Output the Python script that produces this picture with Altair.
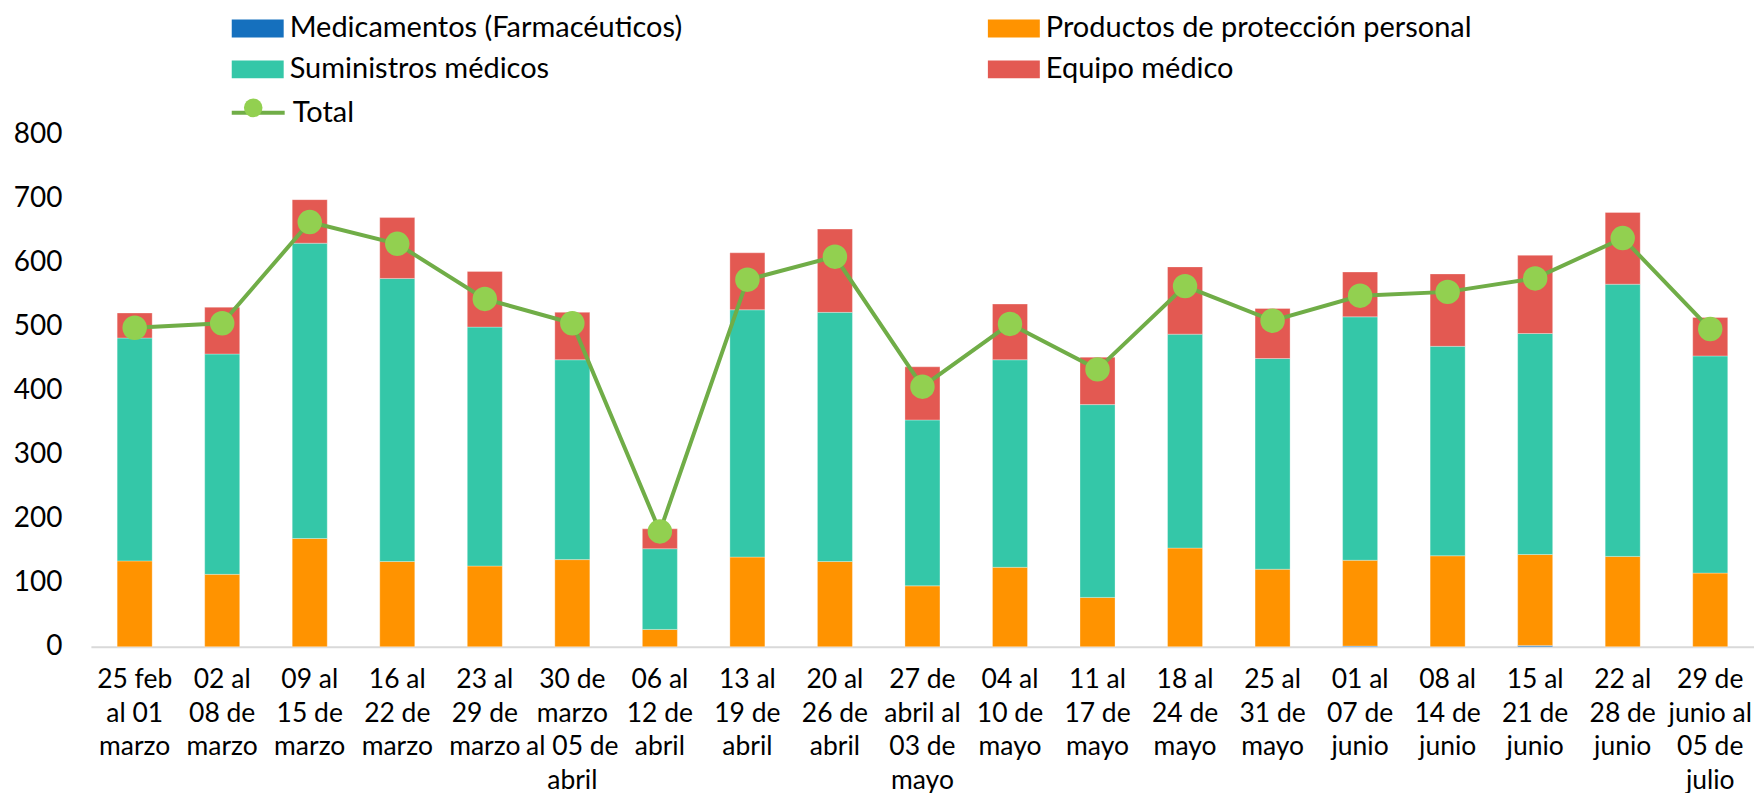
import altair as alt
import pandas as pd

weeks = [
    "25 feb|al 01|marzo", "02 al|08 de|marzo", "09 al|15 de|marzo", "16 al|22 de|marzo",
    "23 al|29 de|marzo", "30 de|marzo|al 05 de|abril", "06 al|12 de|abril", "13 al|19 de|abril",
    "20 al|26 de|abril", "27 de|abril al|03 de|mayo", "04 al|10 de|mayo", "11 al|17 de|mayo",
    "18 al|24 de|mayo", "25 al|31 de|mayo", "01 al|07 de|junio", "08 al|14 de|junio",
    "15 al|21 de|junio", "22 al|28 de|junio", "29 de|junio al|05 de|julio",
]
medicamentos = [0, 0, 0, 0, 0, 0, 0, 0, 0, 0, 0, 0, 0, 0, 1, 0, 2, 0, 0]
productos = [134, 113, 169, 133, 126, 136, 27, 140, 133, 95, 124, 77, 154, 121, 134, 142, 142, 141, 115]
suministros = [348, 344, 461, 442, 373, 312, 126, 386, 389, 259, 324, 301, 334, 329, 380, 327, 345, 425, 339]
equipo = [39, 73, 68, 95, 87, 74, 31, 89, 130, 83, 87, 74, 105, 78, 70, 113, 122, 112, 60]
total = [498, 505, 663, 629, 543, 505, 180, 573, 609, 406, 504, 433, 563, 509, 548, 554, 575, 638, 496]

series = ["Medicamentos (Farmacéuticos)", "Productos de protección personal",
          "Suministros médicos", "Equipo médico"]
colors = ["#1570BE", "#FF9300", "#34C7A8", "#E35952"]

rows = []
for i, w in enumerate(weeks):
    for k, vals in enumerate([medicamentos, productos, suministros, equipo]):
        rows.append({"semana": w, "serie": series[k], "valor": vals[i], "orden": k})
bars_df = pd.DataFrame(rows)
tot_df = pd.DataFrame({"semana": weeks, "total": total,
                       "linea": ["Total"] * len(weeks), "punto": ["Total"] * len(weeks)})

FONT = "Lato"
FS = 28
LFS = 29

x_enc = alt.X(
    "semana:N", sort=weeks,
    scale=alt.Scale(paddingInner=0.6, paddingOuter=0.3),
    axis=alt.Axis(title=None, labelAngle=0, labelExpr="split(datum.label, '|')",
                  labelFont=FONT, labelFontSize=26.5, labelLineHeight=33.5, labelColor="#000000",
                  labelBaseline="top", labelPadding=20, ticks=False, tickSize=0,
                  domainColor="#D9D9D9", domainWidth=2, labelLimit=300),
)
y_scale = alt.Scale(domain=[0, 800], nice=False)
y_axis = alt.Axis(title=None, values=list(range(0, 801, 100)), grid=False, domain=False,
                  ticks=False, tickSize=0, labelPadding=29, labelFont=FONT, labelFontSize=FS,
                  labelColor="#000000")

rect_path = "M-1,-0.346L1,-0.346L1,0.346L-1,0.346Z"

bars = alt.Chart(bars_df).mark_bar(stroke="#ffffff", strokeWidth=0.6, strokeOpacity=0.5).encode(
    x=x_enc,
    y=alt.Y("valor:Q", stack="zero", scale=y_scale, axis=y_axis),
    color=alt.Color("serie:N", scale=alt.Scale(domain=series, range=colors),
                    legend=alt.Legend(orient="none", legendX=141, legendY=-132, columns=2,
                                      direction="horizontal",
                                      columnPadding=305, rowPadding=0, padding=0,
                                      symbolType=rect_path, symbolSize=2704,
                                      symbolStrokeWidth=0, symbolOpacity=1,
                                      labelFont=FONT, labelFontSize=LFS, labelOffset=6,
                                      labelColor="#000000", labelLimit=600, title=None)),
    order=alt.Order("orden:Q"),
)

line = alt.Chart(tot_df).mark_line(strokeWidth=4).encode(
    x=alt.X("semana:N", sort=weeks),
    y=alt.Y("total:Q", scale=y_scale),
    stroke=alt.Stroke("linea:N", scale=alt.Scale(range=["#70AD47"]),
                      legend=alt.Legend(orient="none", legendX=139, legendY=-50, padding=0,
                                        symbolType="stroke", symbolSize=2809,
                                        symbolStrokeWidth=4, labelFont=FONT, labelFontSize=LFS,
                                        labelOffset=6, labelColor="#000000", title=None)),
)

points = alt.Chart(tot_df).mark_circle(size=600, opacity=1).encode(
    x=alt.X("semana:N", sort=weeks),
    y=alt.Y("total:Q", scale=y_scale),
    fill=alt.Fill("punto:N", scale=alt.Scale(range=["#92D050"]),
                  legend=alt.Legend(orient="none", legendX=153, legendY=-36, padding=0,
                                    symbolType="circle", symbolSize=346, symbolStrokeWidth=0,
                                    labelFont=FONT, labelFontSize=1, labelOffset=0,
                                    labelOpacity=0, labelLimit=1, title=None)),
)

chart = alt.layer(bars, line, points).resolve_scale(
    color="independent", stroke="independent", fill="independent"
).properties(
    width=1665, height=513,
    autosize=alt.AutoSizeParams(type="none"),
    padding={"left": 83, "top": 126, "right": 0, "bottom": 155},
    background="#ffffff",
).configure_view(stroke=None)

chart.save("out.html", embed_options={"renderer": "svg", "actions": False})
